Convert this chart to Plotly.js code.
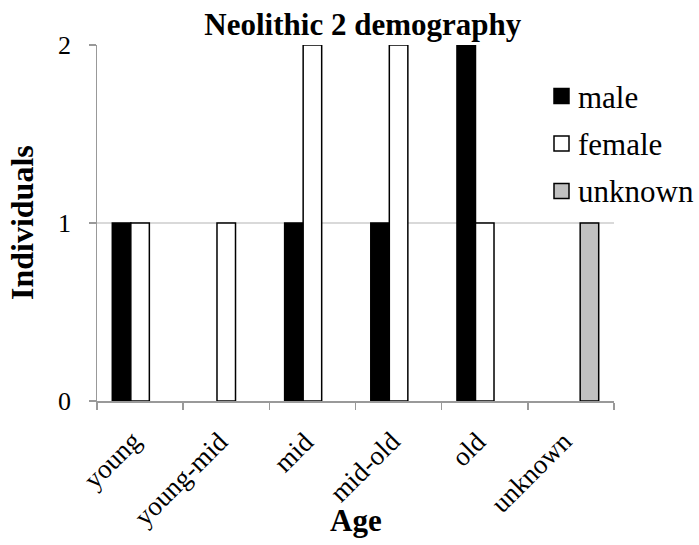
<!DOCTYPE html>
<html>
<head>
<meta charset="utf-8">
<script src="https://cdn.plot.ly/plotly-3.0.1.min.js"></script>
<style>html,body{margin:0;padding:0;background:#fff;font-family:'Liberation Serif',serif}#chart{width:699px;height:545px}#prime{position:absolute;left:-2000px;top:0;visibility:hidden;font-family:'Liberation Serif';font-size:26px;white-space:nowrap}</style>
</head>
<body>
<svg id="prime" width="600" height="40"><text x="0" y="30" style="font-family:'Liberation Serif';font-size:26px">abcdefghijklmnopqrstuvwxyz-0123456789</text></svg>
<div id="chart"></div>
<script>
const categories = ["young", "young-mid", "mid", "mid-old", "old", "unknown"];
const maleValues = [1, 0, 1, 1, 2, 0];
const femaleValues = [1, 1, 2, 2, 1, 0];
const unknownValues = [0, 0, 0, 0, 0, 1];
const seriesNames = ["male", "female", "unknown"];
const seriesColors = ["#000000", "#ffffff", "#c0c0c0"];
const yTicks = [0, 1, 2];

const FONT = "Liberation Serif";
const hideZero = arr => arr.map(v => (v === 0 ? null : v));
const seriesValues = [maleValues, femaleValues, unknownValues];

const traces = seriesNames.map((name, i) => ({
  type: "bar", name: name, x: categories, y: hideZero(seriesValues[i]), showlegend: false,
  marker: {color: seriesColors[i], line: {color: "#000000", width: 1.5}}
}));

const PLOT_TOP = 45, PLOT_BOTTOM = 401, PLOT_H = PLOT_BOTTOM - PLOT_TOP;
const py = px => (PLOT_BOTTOM - px) / PLOT_H;

const annotations = [];
categories.forEach(c => annotations.push({
  text: c, x: c, xref: "x", y: 0, yref: "paper", xanchor: "right", yanchor: "top",
  textangle: -45, xshift: 10, yshift: -22, showarrow: false,
  font: {family: FONT, size: 27, color: "#000"}
}));
yTicks.forEach(v => annotations.push({
  text: String(v), x: 0, xref: "paper", y: v, yref: "y", xanchor: "right", yanchor: "middle",
  xshift: -24, showarrow: false, font: {family: FONT, size: 26, color: "#000"}
}));
annotations.push({text: "<b>Individuals</b>", x: 0, xref: "paper", xshift: -75, y: 0.5, yref: "paper",
  xanchor: "center", yanchor: "middle", textangle: -90, showarrow: false,
  font: {family: FONT, size: 32, color: "#000"}});
annotations.push({text: "<b>Age</b>", x: 0.5, xref: "paper", y: py(520), yref: "paper",
  xanchor: "center", yanchor: "middle", showarrow: false,
  font: {family: FONT, size: 31, color: "#000"}});

const legendCenters = [96, 143.5, 191];
const shapes = [];
seriesNames.forEach((name, i) => {
  const cy = legendCenters[i];
  shapes.push({type: "rect", xref: "paper", yref: "paper",
    x0: (554 - 97) / 517, x1: (569 - 97) / 517, y0: py(cy + 7.5), y1: py(cy - 7.5),
    fillcolor: seriesColors[i], line: {color: "#000000", width: 1.5}});
  annotations.push({text: name, x: (576 - 97) / 517, xref: "paper", y: py(cy + 1), yref: "paper",
    xanchor: "left", yanchor: "middle", showarrow: false,
    font: {family: FONT, size: 31, color: "#000"}});
});

const layout = {
  width: 699, height: 545,
  margin: {l: 97, r: 85, t: 45, b: 144, autoexpand: false},
  paper_bgcolor: "#ffffff", plot_bgcolor: "#ffffff",
  barmode: "group", bargap: 0.355, bargroupgap: 0,
  showlegend: false,
  title: {text: "<b>Neolithic 2 demography</b>", font: {family: FONT, size: 31, color: "#000"},
          x: 0.519, xref: "container", xanchor: "center", y: 0.955, yref: "container", yanchor: "middle"},
  xaxis: {
    type: "category", range: [-0.5, categories.length - 0.5], autorange: false,
    tickson: "boundaries", ticks: "outside", ticklen: 7, showticklabels: false,
    tickcolor: "#999999", tickwidth: 1.5, showline: true, linecolor: "#999999", linewidth: 1.5,
    showgrid: false, automargin: false
  },
  yaxis: {
    range: [0, 2], autorange: false, tickvals: yTicks, ticks: "outside", ticklen: 7, showticklabels: false,
    tickcolor: "#999999", tickwidth: 1.5, showline: true, linecolor: "#999999", linewidth: 1.5,
    showgrid: true, gridcolor: "#d9d9d9", gridwidth: 1.5, zeroline: false, automargin: false
  },
  annotations: annotations,
  shapes: shapes
};

Plotly.newPlot("chart", traces, layout, {displayModeBar: false, staticPlot: true});
</script>
</body>
</html>
